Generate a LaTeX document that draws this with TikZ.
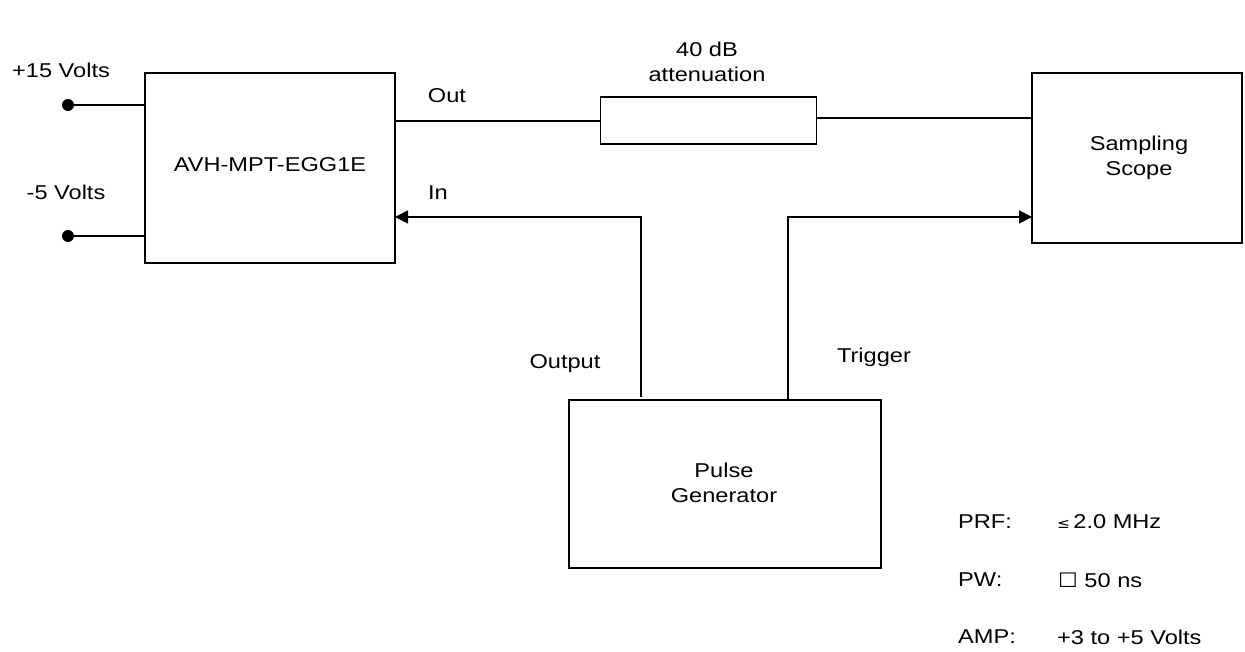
\documentclass[tikz,border=0pt]{standalone}
\usepackage{fontspec}
\setmainfont{Liberation Sans}[FakeStretch=1.18]
\newfontfamily\symfont{DejaVu Sans}[FakeStretch=1.1]
\usetikzlibrary{arrows.meta}
\begin{document}
\begin{tikzpicture}[x=1pt,y=-1pt,
  box/.style={draw,line width=1.8pt,inner sep=0pt},
  wire/.style={line width=1.8pt},
  arr/.style={wire,-{Triangle[length=13pt,width=13pt]}},
  lbl/.style={font=\fontsize{20}{25.5}\selectfont,inner sep=0pt,align=center},
  term/.style={circle,fill=black,inner sep=0pt,minimum size=12pt}]
\useasboundingbox (0,0) rectangle (1245,652);
% boxes
\node[box,minimum width=250pt,minimum height=190pt] (avh) at (270,168) {};
\node[lbl] (avht) at (270,165) {AVH-MPT-EGG1E};
\node[box,minimum width=210pt,minimum height=170pt] (scope) at (1137,158) {};
\node[lbl] (scopet) at (1139,158) {Sampling\\Scope};
\node[box,minimum width=312pt,minimum height=168pt] (pg) at (725,484) {};
\node[lbl] (pgt) at (724,483) {Pulse\\Generator};
\node[box,minimum width=216pt,minimum height=47pt] (att) at (708.5,120.5) {};
\node[lbl] (attt) at (707,62) {40 dB\\attenuation};
% terminals
\node[term] (t1) at (68,105) {};
\node[term] (t2) at (68,236) {};
\coordinate (a1) at (145,105);
\coordinate (a2) at (145,236);
\draw[wire] (t1.center) -- (a1);
\draw[wire] (t2.center) -- (a2);
\node[lbl] (v15) at (61,70) {+15 Volts};
\node[lbl] (v5) at (66,192) {-5 Volts};
% out line
\coordinate (o1) at (395,121);
\coordinate (o2) at (1032,118);
\draw[wire] (o1) -- (att.west |- o1);
\draw[wire] (att.east |- o2) -- (o2);
\node[lbl] (outt) at (447,96) {Out};
\node[lbl] (int) at (438,193) {In};
% pulse output
\coordinate (p1) at (641,397);
\coordinate (p2) at (641,217);
\coordinate (p3) at (395,217);
\draw[arr] (p1) -- (p2) -- (p3);
\coordinate (q1) at (788,400);
\coordinate (q2) at (788,217);
\coordinate (q3) at (1032,217);
\draw[arr] (q1) -- (q2) -- (q3);
\node[lbl] (outp) at (565,364) {Output};
\node[lbl] (trig) at (874,357) {Trigger};
% specs
\node[lbl,anchor=west] (prf) at (958,522) {PRF:};
\node[lbl,anchor=west] (prfv) at (1057,522) {{\symfont\fontsize{14}{16}\selectfont ≤}\,2.0 MHz};
\node[lbl,anchor=west] (pw) at (958,580) {PW:};
\node[lbl,anchor=west] (pwv) at (1058,580) {{\symfont ☐} 50 ns};
\node[lbl,anchor=west] (amp) at (958,637) {AMP:};
\node[lbl,anchor=west] (ampv) at (1057,637) {+3 to +5 Volts};
\end{tikzpicture}
\end{document}
